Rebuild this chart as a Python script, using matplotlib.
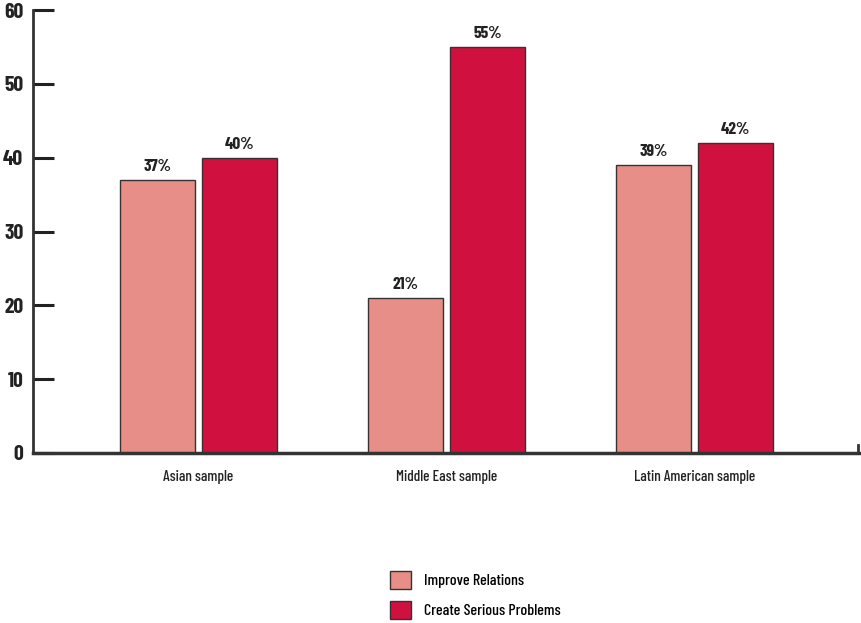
import matplotlib
matplotlib.use('Agg')
import matplotlib.pyplot as plt
from matplotlib.patches import Rectangle
from matplotlib.lines import Line2D
import numpy as np

categories = ['Asian sample', 'Middle East sample', 'Latin American sample']
improve = [37, 21, 39]
problems = [40, 55, 42]
series_names = ['Improve Relations', 'Create Serious Problems']
yticks = [0, 10, 20, 30, 40, 50, 60]

plt.rcParams['font.family'] = ['Barlow Condensed', 'DejaVu Sans']

c_light = '#E88E88'
c_dark = '#D0103F'
edge = '#333333'
txt = '#222222'

fig = plt.figure(figsize=(8.62, 6.23), dpi=100)
ax = fig.add_axes([33/862, 1 - 453/623, 827/862, 443/623])

x = np.arange(len(categories))
w = 0.302
off = 0.166
b1 = ax.bar(x - off, improve, w, color=c_light, edgecolor=edge, linewidth=1)
b2 = ax.bar(x + off, problems, w, color=c_dark, edgecolor=edge, linewidth=1)

for bars, vals in ((b1, improve), (b2, problems)):
    for r, v in zip(bars, vals):
        ax.annotate(f'{v}%', (r.get_x() + r.get_width()/2, v), xytext=(0, 4),
                    textcoords='offset points', ha='center', va='bottom',
                    fontsize=12.5, fontweight='bold', color=txt)

ax.set_xlim(-0.667, 2.667)
ax.set_ylim(0, 60)
ax.set_yticks(yticks)
ax.set_yticklabels([str(t) for t in yticks], fontsize=15.5, fontweight='bold', color=txt)
ax.tick_params(axis='y', direction='in', length=15, width=2.2, color=txt, pad=7)
ax.set_xticks(x)
ax.set_xticklabels(categories, fontsize=11, fontweight='medium', color=txt)
ax.tick_params(axis='x', length=0, pad=12)

for s in ['top', 'right']:
    ax.spines[s].set_visible(False)
ax.spines['left'].set_linewidth(2)
ax.spines['left'].set_color('#333333')
ax.spines['bottom'].set_linewidth(2.5)
ax.spines['bottom'].set_color('#333333')
ax.add_line(Line2D([0.9975, 0.9975], [0, 0.018], transform=ax.transAxes,
                   color='#333333', linewidth=2, clip_on=False))

handles = [Rectangle((0, 0), 1, 1, facecolor=c_light, edgecolor=edge, linewidth=1),
           Rectangle((0, 0), 1, 1, facecolor=c_dark, edgecolor=edge, linewidth=1)]
fig.legend(handles, series_names, loc='center left', bbox_to_anchor=(376/862, 1 - 595/623),
           frameon=False, handlelength=1.3, handleheight=1.3,
           labelspacing=0.8, handletextpad=0.8, prop={'weight': 'medium', 'size': 11.5})

fig.savefig('out.png', dpi=100)
